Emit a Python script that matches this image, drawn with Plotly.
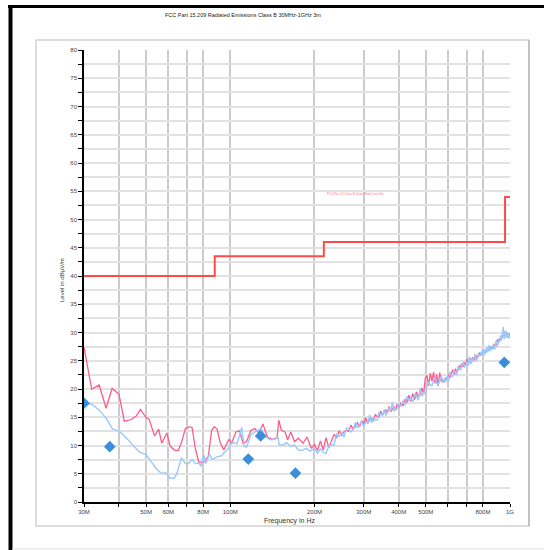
import plotly.graph_objects as go

# ---------------- data ----------------
TITLE = "FCC Part 15.209 Radiated Emissions Class B 30MHz-1GHz 3m"
LIMIT_NAME = "FCC Part 15 Class B Quasi-Peak Limit 3m"

limit_mhz = [30, 88, 216, 960, 1000]
limit_db = [40, 43.5, 46, 54, 54]

peak_low_mhz = [30.0, 31.95, 34.0, 35.98, 37.8, 40.0, 41.8, 44.3, 46.1, 47.7, 49.9, 51.3,
                53.6, 55.5, 56.9, 59.3, 61.0, 63.1, 65.1, 66.9, 69.1, 71.4, 73.0, 75.0,
                77.2, 80.4, 83.4, 85.8, 87.6, 89.6, 92.1, 94.8, 98.9, 101, 104.8, 107.9,
                111.1, 114.4, 118.5, 122.5, 126.2, 130.8, 135.7, 141.1, 146.9, 149.1,
                152.3, 157.0, 160.4, 164.5, 169.7, 175.2, 182.1, 188.0, 194.9]
peak_low_db = [27.4, 20.0, 20.7, 16.6, 20.1, 19.1, 14.3, 14.6, 15.2, 16.4, 15.0, 14.6,
               11.7, 12.9, 10.4, 12.2, 9.9, 9.2, 9.1, 10.5, 13.0, 13.3, 13.2, 9.5,
               7.0, 7.1, 8.0, 12.7, 13.3, 13.0, 10.5, 9.2, 11.1, 10.4, 12.4, 12.6,
               10.4, 10.7, 12.7, 13.0, 12.2, 13.8, 11.5, 11.1, 11.3, 14.5,
               12.7, 12.4, 11.0, 12.4, 10.7, 11.3, 10.4, 11.5, 9.5]

avg_low_mhz = [30.0, 31.95, 34.0, 36.0, 38.0, 40.2, 42.6, 45.1, 47.6, 50.0, 52.4, 54.6,
               56.3, 59.1, 60.9, 63.0, 64.6, 66.9, 69.1, 71.0, 73.0, 75.0, 77.2, 78.7,
               80.4, 81.8, 84.2, 86.2, 89.6, 93.4, 94.8, 97.3, 101, 103.2, 105.8, 107.9,
               109.9, 112.0, 114.4, 118.5, 122.5, 129, 133, 139, 144.6, 148, 149.6,
               155, 159, 164.5, 169.7, 175, 180, 187, 193]
avg_low_db = [17.5, 17.3, 16.3, 14.8, 12.9, 12.5, 11.3, 9.9, 8.8, 8.4, 7.0, 5.8,
              5.2, 5.1, 4.2, 4.2, 5.2, 7.8, 6.8, 6.8, 7.5, 6.8, 6.9, 6.3,
              8.4, 6.8, 8.5, 7.5, 8.0, 8.2, 8.7, 9.1, 10.4, 10.5, 10.3, 11.6,
              13.2, 9.9, 9.7, 11.9, 12.4, 13.0, 11.6, 11.0, 11.1, 11.6, 10.1,
              10.1, 10.5, 9.8, 10.1, 9.2, 9.1, 9.5, 9.0]

high_mhz = [200, 205, 210, 215, 220, 225, 230, 235, 240, 245, 250, 255, 260, 265, 270,
            275, 280, 285, 290, 295, 300, 305, 310, 315, 320, 325, 330, 335, 340, 345,
            350, 355, 360, 365, 370, 375, 380, 385, 390, 395, 400,
            407, 414, 421, 428, 435, 442, 449, 456, 463, 470, 477, 484, 491, 498, 505,
            512, 519, 526, 533, 540, 547, 554, 561, 568, 575, 582, 589, 596, 603, 610,
            617, 624, 631, 638, 645, 652, 659, 666, 673, 680, 687, 694, 701, 708, 715,
            722, 729, 736, 743, 750, 757, 764, 771, 778, 785, 792, 799, 806, 813, 820,
            827, 834, 841, 848, 855, 862, 869, 876, 883, 890, 897, 904, 911, 918, 925,
            932, 939, 946, 953, 960, 967, 974, 981, 988, 995, 1000]
avg_high_db = [9.5, 8.6, 9.4, 8.8, 8.6, 9.9, 10.1, 10.1, 12.0, 11.6, 12.2, 11.5, 13.1, 13.0, 12.4,
               12.8, 14.1, 13.1, 13.7, 14.2, 13.3, 14.2, 14.0, 15.4, 14.0, 14.9, 14.6, 14.5, 15.9, 15.5,
               15.3, 16.4, 15.3, 16.2, 16.6, 16.2, 17.7, 16.0, 16.8, 16.4, 17.4,
               16.9, 17.9, 17.1, 18.7, 17.9, 18.4, 17.7, 18.9, 18.7, 18.0, 20.1, 18.7, 19.4, 19.1, 20.5,
               21.2, 20.7, 20.6, 21.6, 22.1, 21.0, 20.8, 21.7, 22.3, 21.1, 21.7, 21.3, 22.3, 21.4, 23.0,
               22.5, 22.1, 23.2, 22.8, 22.5, 24.0, 23.7, 23.3, 24.1, 24.8, 23.8, 24.5, 24.8, 24.1, 25.7,
               24.3, 25.5, 24.8, 25.5, 26.2, 24.9, 25.7, 26.1, 25.8, 26.5, 26.0, 27.1, 25.9, 26.9, 26.3,
               27.4, 26.5, 27.8, 26.7, 27.2, 26.9, 27.8, 27.4, 27.0, 28.5, 28.1, 27.6, 28.7, 28.3, 29.5,
               28.6, 29.7, 31.0, 28.8, 30.3, 29.1, 30.0, 29.0, 29.8, 28.9, 29.4]
peak_high_db = [10.2, 9.1, 10.8, 9.2, 11.4, 9.6, 10.9, 12.0, 11.3, 12.6, 11.8, 12.4, 12.7, 12.5, 13.6,
                12.9, 13.4, 14.0, 13.3, 14.4, 13.8, 14.9, 13.9, 14.6, 14.8, 14.3, 15.5, 15.1, 15.0, 16.1,
                15.4, 15.9, 16.3, 15.8, 16.9, 16.0, 16.6, 16.9, 16.3, 17.3, 16.8,
                17.5, 17.0, 18.2, 17.6, 18.9, 17.8, 19.2, 18.1, 19.5, 18.6, 19.0, 20.2, 19.1, 21.9, 22.4,
                20.6, 22.8, 21.4, 23.0, 21.0, 22.6, 20.5, 22.9, 21.3, 21.8, 21.2, 22.0, 21.6, 22.6, 22.0,
                22.9, 23.4, 22.5, 23.6, 23.0, 23.4, 24.1, 23.9, 24.5, 23.9, 24.7, 24.2, 25.3, 24.6, 24.9,
                25.4, 24.7, 25.6, 25.1, 25.7, 25.9, 25.3, 26.2, 26.4, 25.9, 26.6, 26.1, 26.9, 26.3, 27.0,
                26.6, 27.2, 26.9, 27.4, 27.0, 27.6, 27.1, 27.9, 27.8, 27.6, 28.4, 28.8, 28.2, 29.0, 28.6,
                29.4, 29.1, 29.8, 30.1, 29.5, 30.2, 29.4, 29.9, 29.2, 29.7, 29.6]

marker_mhz = [30.0, 37.1, 116, 128.4, 171, 954]
marker_db = [17.5, 9.8, 7.6, 11.7, 5.1, 24.7]

x_tick_mhz = [30, 40, 50, 60, 70, 80, 100, 200, 300, 400, 500, 600, 700, 800, 1000]
x_tick_text = ["30M", "", "50M", "60M", "", "80M", "100M", "200M", "300M", "400M",
               "500M", "", "", "800M", "1G"]
y_tick_vals = [0, 2.5, 5, 7.5, 10, 12.5, 15, 17.5, 20, 22.5, 25, 27.5, 30, 32.5, 35, 37.5,
               40, 42.5, 45, 47.5, 50, 52.5, 55, 57.5, 60, 62.5, 65, 67.5, 70, 72.5, 75, 77.5, 80]
y_tick_text = [("%g" % v) if v % 5 == 0 else "" for v in y_tick_vals]

# ---------------- figure ----------------
M = 1e6
W, H = 544, 550
L, R, T, B = 84, 510, 50, 502   # plot area in page pixels


def px(x):
    return (x - L) / (R - L)


def py(y):
    return (B - y) / (B - T)


def page_rect(x0, y0, x1, y1, color):
    return dict(type="rect", xref="paper", yref="paper", x0=px(x0), x1=px(x1),
                y0=py(y1), y1=py(y0), fillcolor=color, line=dict(width=0), layer="above")


fig = go.Figure()

fig.add_trace(go.Scatter(
    x=[f * M for f in limit_mhz], y=limit_db, mode="lines", line_shape="hv",
    line=dict(color="#ff4a4a", width=2), name=LIMIT_NAME, showlegend=False))

fig.add_trace(go.Scatter(
    x=[f * M for f in peak_low_mhz + high_mhz], y=peak_low_db + peak_high_db,
    mode="lines", line=dict(color="#ff5c8d", width=1.3), showlegend=False, name="Peak"))

fig.add_trace(go.Scatter(
    x=[f * M for f in avg_low_mhz + high_mhz], y=avg_low_db + avg_high_db,
    mode="lines", line=dict(color="#99c9ff", width=1.4), showlegend=False, name="Average"))

fig.add_trace(go.Scatter(
    x=[f * M for f in marker_mhz], y=marker_db, mode="markers",
    marker=dict(symbol="diamond", color="#3b8fd8", size=9, line=dict(width=0)),
    showlegend=False, name="Final"))

font_family = "Liberation Sans, Arial, sans-serif"

fig.update_layout(
    width=W, height=H,
    margin=dict(l=L, r=W - R, t=T, b=H - B, pad=0),
    paper_bgcolor="white", plot_bgcolor="white",
    font=dict(family=font_family, size=6, color="#444"),
    hovermode=False,
    xaxis=dict(
        type="log", range=[7.4771, 9.0], tickvals=[v * M for v in x_tick_mhz],
        ticktext=x_tick_text, showgrid=True, gridcolor="#cccccc", gridwidth=2,
        showline=True, linecolor="black", linewidth=1.5, ticks="outside", ticklen=3,
        tickcolor="black", tickfont=dict(size=6, color="#444"), zeroline=False),
    yaxis=dict(
        range=[0, 80], tickvals=y_tick_vals, ticktext=y_tick_text, showgrid=True,
        gridcolor="#e2e2e2", gridwidth=2, showline=True, linecolor="black", linewidth=1.5,
        ticks="outside", ticklen=4, tickcolor="black", tickfont=dict(size=6, color="#444"),
        zeroline=False),
    shapes=[
        dict(type="rect", xref="paper", yref="paper", x0=px(36), x1=px(529), y0=py(526), y1=py(40),
             line=dict(color="#d2d2d2", width=1.5), layer="below"),
        dict(type="line", xref="paper", yref="paper", x0=px(529), x1=px(529), y0=py(526), y1=py(40),
             line=dict(color="#b8b8b8", width=1.5)),
        page_rect(8.5, 5, 12.5, 550, "black"),
        page_rect(8.5, 5, 544, 8, "black"),
        page_rect(12.5, 548, 544, 549.5, "#ececec"),
    ],
    annotations=[
        dict(text=TITLE, xref="paper", yref="paper", x=px(243), y=py(15.5), showarrow=False,
             font=dict(size=5.5, color="#222"), xanchor="center", yanchor="middle"),
        dict(text="Frequency in Hz", xref="paper", yref="paper", x=px(289), y=py(521), showarrow=False,
             font=dict(size=7, color="#333"), xanchor="center", yanchor="middle"),
        dict(text="Level in dBµV/m", xref="paper", yref="paper", x=px(62), y=py(280), showarrow=False,
             textangle=-90, font=dict(size=6, color="#333"), xanchor="center", yanchor="middle"),
        dict(text=LIMIT_NAME, xref="paper", yref="paper", x=px(355), y=py(194), showarrow=False,
             font=dict(size=3, color="#ff6b8a"), xanchor="center", yanchor="middle"),
    ],
)

# remove the default 8px page margin; also make sure the thin top frame bar shows
POST = ("document.body.style.margin='0px';"
        "var bar=document.createElement('div');"
        "bar.style.cssText='position:absolute;left:8px;top:5px;width:536px;height:3px;"
        "background:#000;z-index:10;pointer-events:none';"
        "document.body.appendChild(bar);")
fig.write_html("out.html", config={"displayModeBar": False}, post_script=POST)
